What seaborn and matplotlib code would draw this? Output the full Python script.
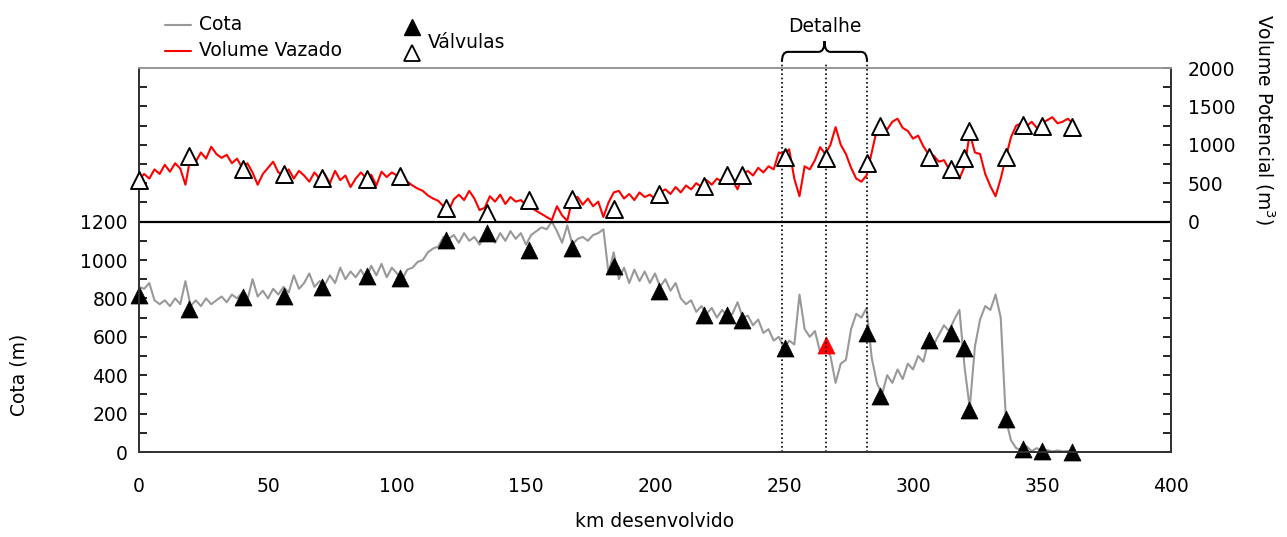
import numpy as np
import pandas as pd
import matplotlib
matplotlib.use("Agg")
import matplotlib.pyplot as plt
import matplotlib.transforms as mtransforms
from matplotlib.path import Path
from matplotlib.patches import PathPatch
from matplotlib.lines import Line2D
from matplotlib.ticker import FixedLocator, FixedFormatter
import seaborn as sns

# ---------------- data ----------------
km = [0, 2, 4, 6, 8, 10, 12, 14, 16, 18, 20, 22, 24, 26, 28, 30, 32, 34, 36, 38,
      40, 42, 44, 46, 48, 50, 52, 54, 56, 58, 60, 62, 64, 66, 68, 70, 72, 74, 76, 78,
      80, 82, 84, 86, 88, 90, 92, 94, 96, 98, 100, 102, 104, 106, 108, 110, 112, 114, 116, 118,
      120, 122, 124, 126, 128, 130, 132, 134, 136, 138, 140, 142, 144, 146, 148, 150, 152, 154, 156, 158,
      160, 162, 164, 166, 168, 170, 172, 174, 176, 178, 180, 182, 184, 186, 188, 190, 192, 194, 196, 198,
      200, 202, 204, 206, 208, 210, 212, 214, 216, 218, 220, 222, 224, 226, 228, 230, 232, 234, 236, 238,
      240, 242, 244, 246, 248, 250, 252, 254, 256, 258, 260, 262, 264, 266, 268, 270, 272, 274, 276, 278,
      280, 282, 284, 286, 288, 290, 292, 294, 296, 298, 300, 302, 304, 306, 308, 310, 312, 314, 316, 318,
      320, 322, 324, 326, 328, 330, 332, 334, 336, 338, 340, 342, 344, 346, 348, 350, 352, 354, 356, 358,
      360, 362]

cota = [860, 850, 880, 790, 770, 790, 760, 800, 770, 890, 760, 790, 760, 800, 770, 790, 810, 780, 820, 800,
        830, 790, 900, 810, 840, 800, 850, 820, 860, 830, 920, 850, 880, 930, 860, 890, 870, 920, 880, 960,
        900, 940, 910, 950, 900, 970, 920, 980, 910, 960, 930, 900, 950, 960, 990, 1000, 1040, 1060, 1070, 1120,
        1110, 1130, 1090, 1140, 1100, 1120, 1080, 1130, 1150, 1090, 1140, 1100, 1150, 1110, 1140, 1080, 1130, 1150, 1170, 1160,
        1200, 1150, 1090, 1180, 1080, 1110, 1120, 1100, 1130, 1140, 1160, 930, 1040, 900, 960, 880, 950, 890, 940, 880,
        930, 860, 900, 840, 880, 800, 770, 790, 730, 760, 720, 750, 700, 740, 710, 720, 780, 700, 710, 660,
        690, 620, 640, 580, 600, 540, 580, 560, 820, 640, 600, 630, 520, 550, 500, 360, 460, 480, 640, 720,
        700, 750, 490, 360, 300, 400, 360, 430, 380, 460, 430, 500, 470, 580, 560, 610, 660, 630, 690, 740,
        440, 230, 550, 690, 760, 740, 820, 700, 170, 60, 20, 10, 30, 5, 20, 5, 10, 3, 8, 3,
        5, 3]

volume = [545, 620, 560, 680, 620, 740, 650, 760, 690, 480, 850, 780, 900, 820, 975, 880, 830, 870, 760, 820,
          700, 760, 640, 480, 620, 700, 780, 640, 610, 680, 560, 660, 600, 520, 640, 560, 620, 500, 660, 540,
          600, 450, 560, 640, 570, 610, 470, 650, 580, 640, 600, 560, 520, 470, 430, 400, 340, 300, 270, 200,
          140, 290, 350, 280, 400, 300, 150, 180, 330, 260, 350, 230, 320, 260, 280, 220, 180, 140, 100, 60,
          20, 200, 80, 10, 300, 320, 220, 300, 200, 260, 60, 250, 380, 400, 300, 360, 280, 380, 320, 350,
          300, 380, 420, 360, 450, 380, 470, 420, 500, 450, 540, 480, 560, 520, 600, 540, 420, 620, 660, 600,
          700, 640, 720, 680, 900, 880, 940, 560, 330, 720, 680, 800, 970, 880, 1000, 1230, 1000, 880, 700, 560,
          520, 600, 900, 1200, 1260, 1200, 1300, 1340, 1220, 1180, 1080, 1120, 980, 880, 860, 780, 800, 680, 700, 560,
          720, 1150, 900, 880, 620, 460, 330, 560, 840, 1100, 1250, 1280, 1240, 1300, 1220, 1280, 1320, 1360, 1280, 1300,
          1340, 1280]

valve_km = [0, 19.4, 40.3, 56.2, 71, 88.4, 101, 119, 135, 151, 168, 184, 201.5, 219,
            228, 233.7, 250.3, 266.4, 282.3, 287.3, 306.2, 314.7, 319.6, 321.7, 336,
            342.6, 350.1, 361.6]
valve_cota = [819, 744, 807, 810, 859, 918, 908, 1106, 1141, 1050, 1064, 967, 841, 713,
              715, 685, 541, 555, 619, 294, 581, 619, 544, 219, 171, 14, 7, 2]
valve_vol = [545, 857, 684, 623, 567, 554, 588, 173, 113, 277, 295, 169, 364, 468,
             606, 606, 840, 831, 762, 1247, 840, 684, 831, 1186, 840, 1256, 1247, 1230]
highlight_valve = 266.4

detail_km = [249.2, 266.3, 282.2]

df = pd.DataFrame({"km": km, "cota": cota, "volume": volume})
dv = pd.DataFrame({"km": valve_km, "cota": valve_cota, "volume": valve_vol})

# ---------------- style ----------------
sns.set_style("white")
plt.rcParams["font.family"] = ["DejaVu Sans"]
FS = 13.5
plt.rcParams.update({
    "font.size": FS,
    "text.color": "black",
    "axes.labelcolor": "black",
    "xtick.color": "black",
    "ytick.color": "black",
})

fig = plt.figure(figsize=(12.87, 5.37), dpi=100)
ax = fig.add_axes([139 / 1287, 1 - 452 / 537, 1032 / 1287, 384 / 537])
ax2 = ax.twinx()

GRAY = "#999999"
RED = "#ff0000"

# Cota line (left axis)
sns.lineplot(data=df, x="km", y="cota", ax=ax, color=GRAY, linewidth=1.5,
             estimator=None, sort=False, zorder=2)
# Volume line (right axis)
sns.lineplot(data=df, x="km", y="volume", ax=ax2, color=RED, linewidth=1.5,
             estimator=None, sort=False, zorder=2)

# Valves on Cota (filled), one highlighted red
dv["hl"] = np.isclose(dv["km"], highlight_valve)
sns.scatterplot(data=dv[~dv["hl"]], x="km", y="cota", ax=ax, marker="^", s=150,
                color="black", edgecolor="black", linewidth=0.5, zorder=4, clip_on=False)
sns.scatterplot(data=dv[dv["hl"]], x="km", y="cota", ax=ax, marker="^", s=150,
                color=RED, edgecolor=RED, linewidth=0.5, zorder=4, clip_on=False)
# Valves on volume (open)
sns.scatterplot(data=dv, x="km", y="volume", ax=ax2, marker="^", s=150,
                color="white", edgecolor="black", linewidth=1.4, zorder=4, clip_on=False)

# axes limits
ax.set_xlim(0, 400)
ax.set_ylim(0, 2000)
ax2.set_ylim(-3000, 2000)

# x ticks
ax.set_xticks(range(0, 401, 50))
ax.tick_params(axis="x", direction="out", length=5, width=1.2, pad=13, labelsize=FS,
               colors="black")
# left y ticks
lt = list(range(0, 2001, 100))
ax.yaxis.set_major_locator(FixedLocator(lt))
ax.yaxis.set_major_formatter(FixedFormatter([str(v) if (v % 200 == 0 and v <= 1200) else "" for v in lt]))
ax.tick_params(axis="y", direction="in", length=6, width=1.2, pad=8, labelsize=FS, colors="black")
# right y ticks
rt = list(range(-3000, 2001, 250))
ax2.yaxis.set_major_locator(FixedLocator(rt))
ax2.yaxis.set_major_formatter(FixedFormatter([str(v) if (v >= 0 and v % 500 == 0) else "" for v in rt]))
ax2.tick_params(axis="y", direction="in", length=6, width=1.2, pad=12, labelsize=FS, colors="black")

# spines
for a in (ax, ax2):
    for s in ("left", "right", "bottom"):
        a.spines[s].set_color("#333333")
        a.spines[s].set_linewidth(1.3)
    a.spines["top"].set_color("#9a9a9a")
    a.spines["top"].set_linewidth(1.3)
ax.grid(False)
ax2.grid(False)

# separating line at Cota 1200 / Volume 0
ax.axhline(1200, color="black", linewidth=1.6, zorder=3)

# labels
ax.set_xlabel("km desenvolvido", fontsize=FS, color="black")
ax.xaxis.set_label_coords(0.5, -0.155)
ax.set_ylabel("Cota (m)", fontsize=FS, color="black")
ax.yaxis.set_label_coords(-0.107, 0.2)
ax2.set_ylabel("Volume Potencial (m$^3$)", fontsize=FS, rotation=270, va="center", color="black")
ax2.yaxis.set_label_coords(1.091, 0.865)

# detail lines and brace
trans = mtransforms.blended_transform_factory(ax.transData, ax.transAxes)
for xk in detail_km:
    ax.add_line(Line2D([xk, xk], [0, 1.016], transform=trans, color="black",
                       linestyle=(0, (1, 1.6)), linewidth=1.2, clip_on=False, zorder=5))
x0, xm, x1 = detail_km[0], (detail_km[0] + detail_km[2]) / 2, detail_km[2]
yb, yh, yp = 1.016, 1.042, 1.070
verts = [(x0, yb), (x0, yh), (x0 + 2.3, yh),
         (xm - 2.3, yh), (xm, yh), (xm, yp),
         (xm, yh), (xm + 2.3, yh),
         (x1 - 2.3, yh), (x1, yh), (x1, yb)]
codes = [Path.MOVETO, Path.CURVE3, Path.CURVE3,
         Path.LINETO, Path.CURVE3, Path.CURVE3,
         Path.CURVE3, Path.CURVE3,
         Path.LINETO, Path.CURVE3, Path.CURVE3]
ax.add_patch(PathPatch(Path(verts, codes), transform=trans, facecolor="none",
                       edgecolor="black", linewidth=1.5, clip_on=False))
ax.text(xm, 1.108, "Detalhe", transform=trans, ha="center", va="center", fontsize=FS,
        color="black")

# legend (manual, in figure coordinates)
def fx(px):
    return px / 1287
def fy(py):
    return 1 - py / 537

fig.add_artist(Line2D([fx(165), fx(191)], [fy(25), fy(25)], color=GRAY, linewidth=1.5))
fig.text(fx(199), fy(25), "Cota", ha="left", va="center", fontsize=FS, color="black")
fig.add_artist(Line2D([fx(165), fx(191)], [fy(51), fy(51)], color=RED, linewidth=1.5))
fig.text(fx(199), fy(51), "Volume Vazado", ha="left", va="center", fontsize=FS, color="black")
fig.add_artist(Line2D([fx(412)], [fy(27)], marker="^", markersize=11, color="black",
                      markeredgecolor="black", linestyle="none"))
fig.add_artist(Line2D([fx(412)], [fy(53)], marker="^", markersize=11, color="white",
                      markeredgecolor="black", markeredgewidth=1.3, linestyle="none"))
fig.text(fx(428), fy(42), "Válvulas", ha="left", va="center", fontsize=FS, color="black")

fig.savefig("out.png", dpi=100)
